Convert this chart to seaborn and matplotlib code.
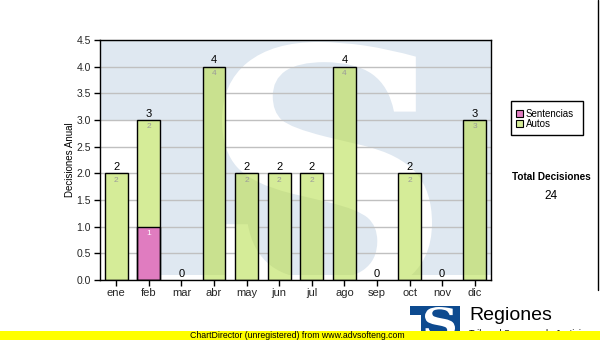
import numpy as np
import pandas as pd
import seaborn as sns
import matplotlib
matplotlib.use("Agg")
import matplotlib.pyplot as plt
from matplotlib.patches import Rectangle, Polygon, PathPatch
from matplotlib.textpath import TextPath
from matplotlib.font_manager import FontProperties
from matplotlib.transforms import Affine2D

# ---------------- data ----------------
months = ["ene", "feb", "mar", "abr", "may", "jun", "jul", "ago", "sep", "oct", "nov", "dic"]
sentencias = [0, 1, 0, 0, 0, 0, 0, 0, 0, 0, 0, 0]
autos = [2, 2, 0, 4, 2, 2, 2, 4, 0, 2, 0, 3]
yticks = [0.0, 0.5, 1.0, 1.5, 2.0, 2.5, 3.0, 3.5, 4.0, 4.5]
series_names = ["Sentencias", "Autos"]
y_label = "Decisiones Anual"
total_title = "Total Decisiones"

# ---------------- style ----------------
GREEN = "#d5ec98"
GREEN_DARK = "#c9e18f"
PINK = "#e07cc0"
BLUE = "#dfe8f1"
FONT = "Liberation Sans"

sns.set_theme(style="white")
plt.rcParams["font.family"] = [FONT, "DejaVu Sans"]

W, H = 600, 340
fig = plt.figure(figsize=(6, 3.4), dpi=100)
fig.patch.set_facecolor("white")

# background canvas in pixel coordinates
bg = fig.add_axes([0, 0, 1, 1], zorder=0)
bg.set_xlim(0, W)
bg.set_ylim(H, 0)
bg.axis("off")

PL, PR, PT, PB = 100, 491, 40, 280
ax = fig.add_axes([PL / W, (H - PB) / H, (PR - PL) / W, (PB - PT) / H], zorder=1)
ax.set_facecolor("none")

# ---------------- watermark ----------------
field_xy = [(PL, PT), (PR, PT), (PR, 275), (161, 275), (161, 120), (PL, 120)]
bg.add_patch(Polygon(field_xy, closed=True, facecolor=BLUE, edgecolor="none", zorder=0))
tp = TextPath((0, 0), "S", size=100, prop=FontProperties(family="DejaVu Serif", weight="bold"))
ext = tp.get_extents()
sx0, sx1, sy0, sy1 = 222, 432, 42, 300
tr = Affine2D().translate(-ext.x0, -ext.y1).scale((sx1 - sx0) / ext.width, -(sy1 - sy0) / ext.height).translate(sx0, sy0)
S_path = tr.transform_path(tp)
s_patch = PathPatch(S_path, facecolor="white", edgecolor="none", zorder=1)
bg.add_patch(s_patch)
s_patch.set_clip_path(Rectangle((PL, PT), PR - PL, 275 - PT, transform=bg.transData))

# ---------------- bars ----------------
total = np.add(sentencias, autos)
df = pd.DataFrame({"mes": months, "total": total, "sent": sentencias, "autos": autos})

ax.yaxis.grid(True, color="#c0c0c0", lw=1)
ax.set_axisbelow(True)

sns.barplot(data=df, x="mes", y="total", color=GREEN, saturation=1, width=0.7,
            edgecolor="none", linewidth=0, ax=ax, zorder=2)
green_patches = list(ax.patches)
sns.barplot(data=df, x="mes", y="sent", color=PINK, saturation=1, width=0.7,
            edgecolor="none", linewidth=0, ax=ax, zorder=2.3)
pink_patches = [p for p in ax.patches if p not in green_patches]


def shade(p, dark, light, z):
    if p.get_height() <= 0:
        return
    f = Polygon(field_xy, closed=True, transform=bg.transData, facecolor=dark, edgecolor="none", zorder=z)
    ax.add_patch(f)
    f.set_clip_path(p)
    s = PathPatch(S_path, transform=bg.transData, facecolor=light, edgecolor="none", zorder=z + 0.05)
    ax.add_patch(s)
    s.set_clip_path(p)


for p in green_patches:
    shade(p, GREEN_DARK, GREEN, 2.1)
for p in pink_patches:
    shade(p, "#d676b8", PINK, 2.4)
for p in green_patches + pink_patches:
    if p.get_height() > 0:
        ax.add_patch(Rectangle(p.get_xy(), p.get_width(), p.get_height(), fill=False,
                               edgecolor="black", lw=1, zorder=3))

# value labels
for i, (t, s, a) in enumerate(zip(total, sentencias, autos)):
    ax.annotate(str(t), (i, t), xytext=(0, 1), textcoords="offset points",
                ha="center", va="bottom", fontsize=8, color="black", zorder=4)
    if a > 0:
        ax.annotate(str(a), (i, t), xytext=(0, -2.5), textcoords="offset points",
                    ha="center", va="top", fontsize=6, color="#9a9a9a", zorder=4)
    if s > 0:
        ax.annotate(str(s), (i, s), xytext=(0, -2.5), textcoords="offset points",
                    ha="center", va="top", fontsize=6, color="white", zorder=4)

# ---------------- axes ----------------
ax.set_xlim(-0.5, len(months) - 0.5)
ax.set_ylim(0, 4.5)
ax.set_yticks(yticks)
ax.set_yticklabels([f"{v:.1f}" for v in yticks])
ax.set_xlabel("")
ax.set_ylabel("")
ax.tick_params(axis="y", direction="out", length=4, width=1, color="black", labelsize=7.5, pad=2.5, left=True)
ax.tick_params(axis="x", direction="out", length=4, width=1, color="black", labelsize=8, pad=2, bottom=True)
for sp in ax.spines.values():
    sp.set_visible(True)
    sp.set_color("black")
    sp.set_linewidth(1)
    sp.set_zorder(3.5)

bg.text(70, 160, y_label, rotation=90, ha="center", va="center", fontsize=7, color="black")

# ---------------- legend ----------------
bg.add_patch(Rectangle((511, 101), 72, 34, facecolor="white", edgecolor="black", lw=1, zorder=2))
for k, (name, col) in enumerate(zip(series_names, [PINK, GREEN])):
    yy = 113.5 + k * 10
    bg.add_patch(Rectangle((515.5, yy - 3.5), 7, 7, facecolor=col, edgecolor="black", lw=0.8, zorder=3))
    bg.text(526, yy + 0.3, name, ha="left", va="center", fontsize=7, color="black", zorder=3)

bg.add_line(plt.Line2D([597.5, 597.5], [0, 290], color="black", lw=1))

bg.text(551, 177, total_title, ha="center", va="center", fontsize=7.2, fontweight="bold", color="black")
bg.text(551, 196, str(int(total.sum())), ha="center", va="center", fontsize=8.5, color="black")

# ---------------- logo & footer ----------------
LOGO = "#0d4a8f"
bg.add_patch(Polygon([(410, 306), (460, 306), (460, 331), (421, 331), (421, 315), (410, 315)],
                     closed=True, facecolor=LOGO, edgecolor="none", zorder=2))
tp2 = TextPath((0, 0), "S", size=100, prop=FontProperties(family="DejaVu Serif", weight="bold"))
e2 = tp2.get_extents()
tr2 = Affine2D().translate(-e2.x0, -e2.y1).scale(30 / e2.width, -30 / e2.height).translate(425, 307)
bg.add_patch(PathPatch(tr2.transform_path(tp2), facecolor="white", edgecolor="none", zorder=3))
bg.text(469, 316, "Regiones", ha="left", va="center", fontsize=14, color="black")
bg.text(469, 333, "Tribunal Supremo de Justicia", ha="left", va="center", fontsize=6.5, color="black")
bg.add_patch(Rectangle((0, 331), W, 9, facecolor="#ffff00", edgecolor="none", zorder=5))
bg.text(190, 335.5, "ChartDirector (unregistered) from www.advsofteng.com", ha="left", va="center",
        fontsize=6.3, color="black", zorder=6)

fig.savefig("out.png", dpi=100)
